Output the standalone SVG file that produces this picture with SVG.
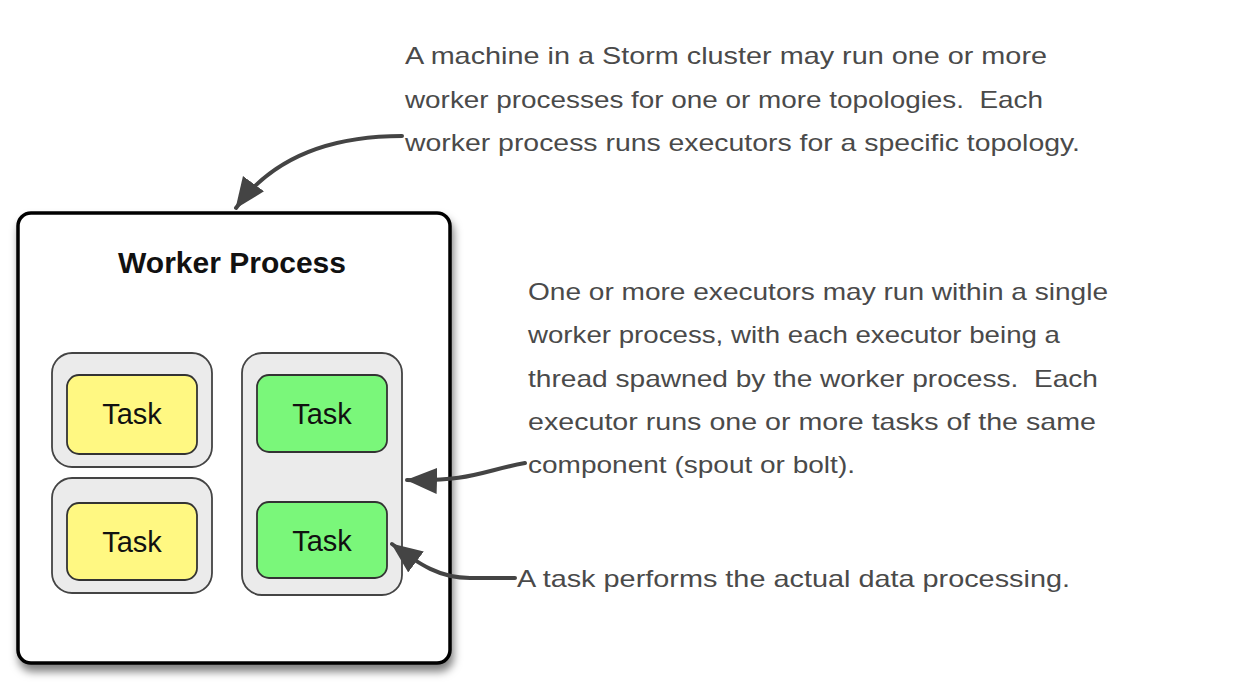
<svg xmlns="http://www.w3.org/2000/svg" width="1244" height="690" viewBox="0 0 1244 690">
<defs>
<filter id="shadow" x="-10%" y="-10%" width="125%" height="125%">
<feDropShadow dx="2" dy="7" stdDeviation="4.5" flood-color="#000" flood-opacity="0.5"/>
</filter>
<marker id="ah" markerUnits="userSpaceOnUse" markerWidth="34" markerHeight="28" refX="30" refY="13" orient="auto">
<path d="M0,0 L31,13 L0,26 Z" fill="#444"/>
</marker>
<style>
.outer{fill:#fff;stroke:#000;stroke-width:3.5}
.exec{fill:#ebebeb;stroke:#444;stroke-width:1.8}
.yellow{fill:#fff882;stroke:#333;stroke-width:1.8}
.green{fill:#7af77a;stroke:#333;stroke-width:1.8}
.task{font-family:"Liberation Sans",Arial,sans-serif;font-size:29px;fill:#111;text-anchor:middle}
.title{font-family:"Liberation Sans",Arial,sans-serif;font-size:30px;font-weight:bold;fill:#111;text-anchor:middle}
.note{font-family:"Liberation Sans",Arial,sans-serif;font-size:24px;fill:#4a4a4a;white-space:pre}
.conn{fill:none;stroke:#444;stroke-width:4;stroke-linecap:round}
</style>
</defs>
<g id="worker-process">
<rect class="outer" x="18" y="213" width="432" height="450" rx="13" filter="url(#shadow)"/>
<text class="title" x="232" y="273">Worker Process</text>
</g>
<g id="executor-1">
<rect class="exec" x="52" y="353" width="160" height="114" rx="20"/>
</g>
<g id="task-1">
<rect class="yellow" x="67" y="375" width="130" height="79" rx="12"/>
<text class="task" x="132" y="424">Task</text>
</g>
<g id="executor-2">
<rect class="exec" x="52" y="478" width="160" height="115" rx="20"/>
</g>
<g id="task-2">
<rect class="yellow" x="67" y="503" width="130" height="77" rx="12"/>
<text class="task" x="132" y="552">Task</text>
</g>
<g id="executor-3">
<rect class="exec" x="242" y="353" width="160" height="242" rx="20"/>
</g>
<g id="task-3">
<rect class="green" x="257" y="375" width="130" height="77" rx="12"/>
<text class="task" x="322" y="424">Task</text>
</g>
<g id="task-4">
<rect class="green" x="257" y="502" width="130" height="76" rx="12"/>
<text class="task" x="322" y="551">Task</text>
</g>
<g id="note-machine" xml:space="preserve">
<text class="note" x="405" y="64" textLength="642" lengthAdjust="spacingAndGlyphs">A machine in a Storm cluster may run one or more</text>
<text class="note" x="405" y="108" textLength="638" lengthAdjust="spacingAndGlyphs">worker processes for one or more topologies.  Each</text>
<text class="note" x="405" y="151" textLength="675" lengthAdjust="spacingAndGlyphs">worker process runs executors for a specific topology.</text>
</g>
<g id="note-executor" xml:space="preserve">
<text class="note" x="528" y="300" textLength="580" lengthAdjust="spacingAndGlyphs">One or more executors may run within a single</text>
<text class="note" x="528" y="343" textLength="532" lengthAdjust="spacingAndGlyphs">worker process, with each executor being a</text>
<text class="note" x="528" y="387" textLength="570" lengthAdjust="spacingAndGlyphs">thread spawned by the worker process.  Each</text>
<text class="note" x="528" y="430" textLength="568" lengthAdjust="spacingAndGlyphs">executor runs one or more tasks of the same</text>
<text class="note" x="528" y="473" textLength="327" lengthAdjust="spacingAndGlyphs">component (spout or bolt).</text>
</g>
<g id="note-task">
<text class="note" x="517" y="587" textLength="553" lengthAdjust="spacingAndGlyphs">A task performs the actual data processing.</text>
</g>
<g id="connectors">
<path class="conn" d="M402,136 C330,136 272,158 236,208" marker-end="url(#ah)"/>
<path class="conn" d="M525,463 C485,470 470,482 407,480" marker-end="url(#ah)"/>
<path class="conn" d="M515,578 L470,578 C440,578 420,565 392,544" marker-end="url(#ah)"/>
</g>
</svg>
